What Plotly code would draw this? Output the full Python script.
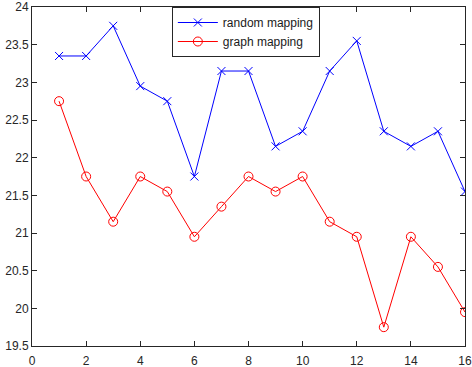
import plotly.graph_objects as go

x_vals = list(range(1, 17))
random_mapping = [23.35, 23.35, 23.75, 22.95, 22.75, 21.75, 23.15, 23.15,
                  22.15, 22.35, 23.15, 23.55, 22.35, 22.15, 22.35, 21.55]
graph_mapping = [22.75, 21.75, 21.15, 21.75, 21.55, 20.95, 21.35, 21.75,
                 21.55, 21.75, 21.15, 20.95, 19.75, 20.95, 20.55, 19.95]

axis_color = '#262626'

fig = go.Figure()
fig.add_trace(go.Scatter(x=x_vals, y=random_mapping, mode='lines+markers',
                         name='random mapping',
                         line=dict(color='#0000ff', width=1),
                         marker=dict(symbol='x-thin', size=8,
                                     line=dict(color='#0000ff', width=1))))
fig.add_trace(go.Scatter(x=x_vals, y=graph_mapping, mode='lines+markers',
                         name='graph mapping',
                         line=dict(color='#ff0000', width=1),
                         marker=dict(symbol='circle-open', size=9,
                                     line=dict(color='#ff0000', width=1))))

axis_style = dict(showgrid=False, zeroline=False, showline=True, linecolor=axis_color,
                  linewidth=1, mirror='ticks', ticks='inside', ticklen=5,
                  tickcolor=axis_color, ticklabeloverflow='allow', automargin=False,
                  tickfont=dict(color=axis_color, size=12))

fig.update_layout(
    width=472, height=367,
    margin=dict(l=32, r=7, t=7, b=21),
    plot_bgcolor='white', paper_bgcolor='white',
    font=dict(family='Liberation Sans, Arial, sans-serif', color=axis_color),
    xaxis=dict(range=[0, 16], dtick=2, ticklabelstandoff=4, **axis_style),
    yaxis=dict(range=[19.5, 24], dtick=0.5, **axis_style),
    legend=dict(x=0.323, y=1.0, xanchor='left', yanchor='top',
                bordercolor='#262626', borderwidth=1, bgcolor='white',
                font=dict(size=12, color='#1a1a1a'), tracegroupgap=0,
                itemwidth=40),
)

# page body has a default 8px margin, drop it so the figure sits at the corner
fig.write_html("out.html", config={'displayModeBar': False},
               post_script="document.body.style.margin='0';")
